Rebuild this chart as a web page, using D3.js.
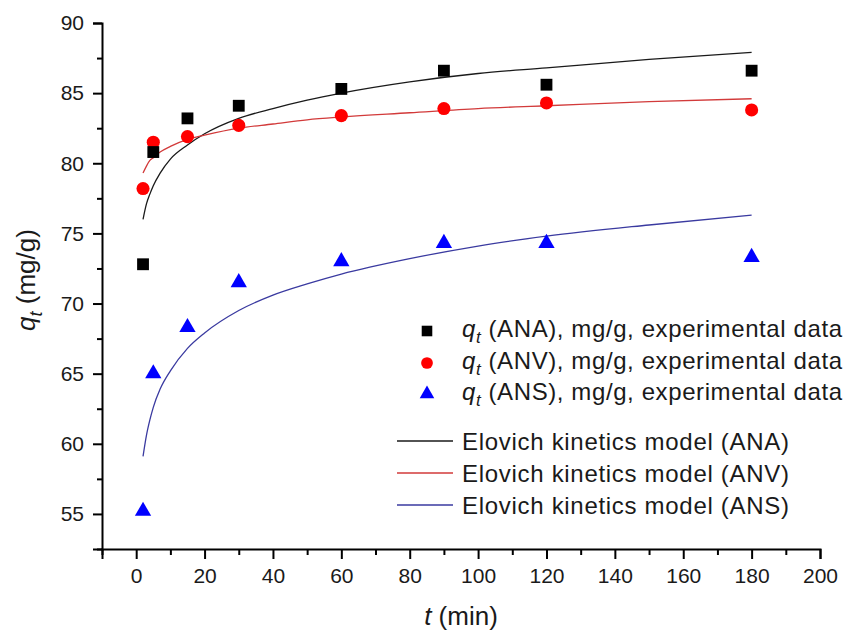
<!DOCTYPE html>
<html>
<head>
<meta charset="utf-8">
<script src="https://cdn.jsdelivr.net/npm/d3@7"></script>
<style>
  html, body { margin: 0; padding: 0; background: #fff; }
  svg { display: block; font-family: "Liberation Sans", Arial, sans-serif; }
</style>
</head>
<body>
<svg id="chart" width="848" height="633"></svg>
<script>
// ---- Data ----
const times = [2, 5, 15, 30, 60, 90, 120, 180];
const qANA = [72.8, 80.8, 83.2, 84.1, 85.3, 86.6, 85.6, 86.6];
const qANV = [78.2, 81.5, 81.9, 82.7, 83.4, 83.9, 84.3, 83.8];
const qANS = [55.2, 65.0, 68.3, 71.5, 73.0, 74.3, 74.3, 73.3];

// Elovich model curves
const modelTimes = [2, 3, 4, 5, 7, 10, 15, 20, 30, 40, 50, 60, 80, 100, 120, 150, 180];
const modelANA = [76.0, 77.1, 77.8, 78.4, 79.3, 80.3, 81.3, 82.1, 83.2, 83.9, 84.5, 85.0, 85.8, 86.4, 86.8, 87.4, 87.9];
const modelANV = [79.3, 79.8, 80.2, 80.4, 80.8, 81.2, 81.7, 82.0, 82.5, 82.8, 83.1, 83.3, 83.6, 83.9, 84.1, 84.4, 84.6];
const modelANS = [59.1, 60.6, 61.7, 62.6, 63.9, 65.2, 66.8, 67.9, 69.5, 70.6, 71.4, 72.1, 73.2, 74.1, 74.8, 75.6, 76.3];

const xMajorTicks = [0, 20, 40, 60, 80, 100, 120, 140, 160, 180, 200];
const xMinorTicks = [-10, 10, 30, 50, 70, 90, 110, 130, 150, 170, 190];
const yMajorTicks = [55, 60, 65, 70, 75, 80, 85, 90];
const yMinorTicks = [52.5, 57.5, 62.5, 67.5, 72.5, 77.5, 82.5, 87.5];

const legendSeries = ["ANA", "ANV", "ANS"];

// ---- Layout ----
const svg = d3.select("#chart");
const x = d3.scaleLinear().domain([-10, 200]).range([102, 820]);
const y = d3.scaleLinear().domain([52.5, 90]).range([549, 23]);

const colors = { ANA: "#000000", ANV: "#ff0000", ANS: "#0000ff" };
const lineColors = { ANA: "#1a1a1a", ANV: "#d23a3a", ANS: "#3a3aa0" };
const shapes = { ANA: d3.symbolSquare, ANV: d3.symbolCircle, ANS: d3.symbolTriangle };
const sizes = { ANA: 140, ANV: 135, ANS: 115 };

// ---- Axes ----
const gx = svg.append("g").attr("transform", `translate(0,${y(52.5)})`);
gx.call(d3.axisBottom(x).tickValues(xMajorTicks).tickSize(10).tickPadding(9).tickFormat(d3.format("d")));
const gxm = svg.append("g").attr("transform", `translate(0,${y(52.5)})`);
gxm.call(d3.axisBottom(x).tickValues(xMinorTicks).tickSize(6).tickFormat(""));
gxm.select(".domain").remove();

const gy = svg.append("g").attr("transform", `translate(${x(-10)},0)`);
gy.call(d3.axisLeft(y).tickValues(yMajorTicks).tickSize(9).tickPadding(9).tickFormat(d3.format("d")));
const gym = svg.append("g").attr("transform", `translate(${x(-10)},0)`);
gym.call(d3.axisLeft(y).tickValues(yMinorTicks).tickSize(5).tickFormat(""));
gym.select(".domain").remove();

svg.selectAll(".domain").attr("stroke", "#000").attr("stroke-width", 2);
svg.selectAll(".tick line").attr("stroke", "#000").attr("stroke-width", 2);
svg.selectAll(".tick text").attr("font-size", 21).attr("fill", "#1a1a1a")
  .attr("font-family", "Liberation Sans, Arial, sans-serif");

// ---- Model lines ----
const seriesModel = { ANA: modelANA, ANV: modelANV, ANS: modelANS };
const line = d3.line().x(d => x(d[0])).y(d => y(d[1])).curve(d3.curveMonotoneX);
for (const k of legendSeries) {
  svg.append("path")
    .datum(modelTimes.map((t, i) => [t, seriesModel[k][i]]))
    .attr("fill", "none")
    .attr("stroke", lineColors[k])
    .attr("stroke-width", 1.3)
    .attr("d", line);
}

// ---- Points ----
const seriesData = { ANA: qANA, ANV: qANV, ANS: qANS };
for (const k of ["ANS", "ANV", "ANA"]) {
  svg.append("g").selectAll("path")
    .data(times.map((t, i) => [t, seriesData[k][i]]))
    .join("path")
    .attr("transform", d => `translate(${x(d[0])},${y(d[1])})`)
    .attr("d", d3.symbol().type(shapes[k]).size(sizes[k]))
    .attr("fill", colors[k]);
}

// ---- Legend ----
const leg = svg.append("g");
const symRows = [337, 369, 400];
const lineRows = [450, 482, 514];
legendSeries.forEach((k, i) => {
  const by = symRows[i];
  leg.append("path")
    .attr("transform", `translate(427,${by - 6})`)
    .attr("d", d3.symbol().type(shapes[k]).size(sizes[k] * 0.8))
    .attr("fill", colors[k]);
  const t = leg.append("text").attr("x", 462).attr("y", by)
    .attr("font-size", 24).attr("fill", "#1a1a1a")
    .attr("textLength", 380).attr("lengthAdjust", "spacing");
  t.append("tspan").attr("font-style", "italic").text("q");
  t.append("tspan").attr("font-style", "italic").attr("font-size", 17).attr("dy", 6).text("t");
  t.append("tspan").attr("dy", -6).text(` (${k}), mg/g, experimental data`);
});
legendSeries.forEach((k, i) => {
  const by = lineRows[i];
  leg.append("line").attr("x1", 397).attr("x2", 453)
    .attr("y1", by - 9).attr("y2", by - 9)
    .attr("stroke", lineColors[k]).attr("stroke-width", 1.3);
  leg.append("text").attr("x", 462).attr("y", by)
    .attr("font-size", 24).attr("fill", "#1a1a1a")
    .attr("textLength", 327).attr("lengthAdjust", "spacing")
    .text(`Elovich kinetics model (${k})`);
});

// ---- Axis titles ----
const xt = svg.append("text").attr("x", 461).attr("y", 625)
  .attr("text-anchor", "middle").attr("font-size", 26).attr("fill", "#1a1a1a");
xt.append("tspan").attr("font-style", "italic").text("t");
xt.append("tspan").text(" (min)");

const yt = svg.append("text")
  .attr("transform", "translate(35,280) rotate(-90)")
  .attr("text-anchor", "middle").attr("font-size", 26).attr("fill", "#1a1a1a");
yt.append("tspan").attr("font-style", "italic").text("q");
yt.append("tspan").attr("font-style", "italic").attr("font-size", 18).attr("dy", 7).text("t");
yt.append("tspan").attr("dy", -7).text(" (mg/g)");
</script>
</body>
</html>
